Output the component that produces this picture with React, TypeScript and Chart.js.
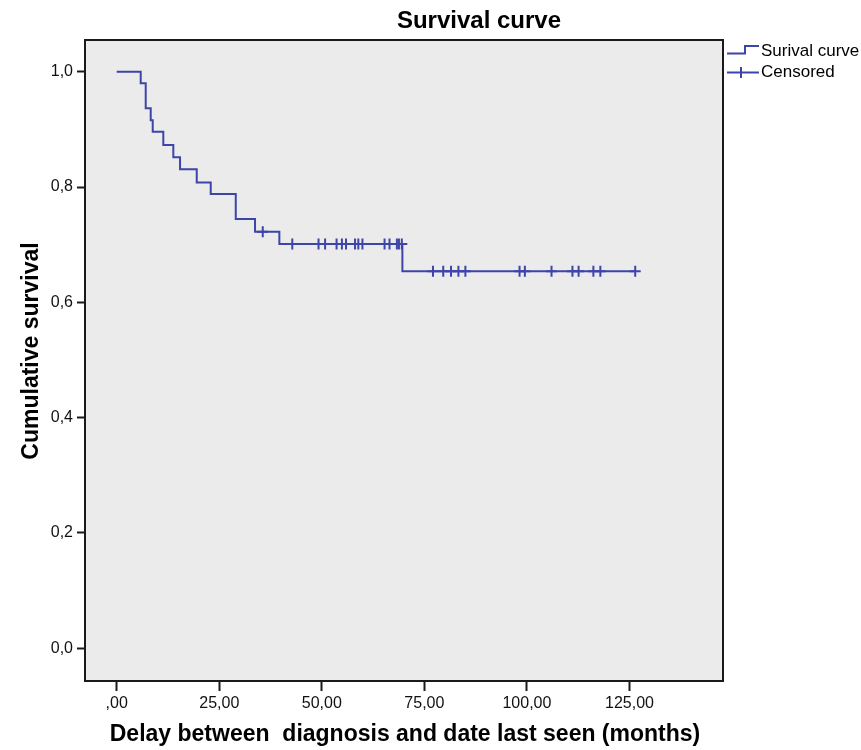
import React, { useEffect, useRef } from "react";
import { Chart, registerables } from "chart.js";

Chart.register(...registerables);

// ---- Data ----
const chartTitle = "Survival curve";
const xAxisTitle = "Delay between  diagnosis and date last seen (months)";
const yAxisTitle = "Cumulative survival";
const legendLabels = ["Surival curve", "Censored"];

// Kaplan-Meier step drops: time (months) and survival after the drop
const eventTimes = [5.85, 7.07, 8.29, 8.78, 11.36, 13.8, 15.44, 19.51, 22.92, 29.02, 33.72, 39.65, 69.64];
const survivalLevels = [0.98, 0.9365, 0.916, 0.896, 0.873, 0.8515, 0.831, 0.808, 0.788, 0.7446, 0.7225, 0.701, 0.654];
const lastFollowUp = 126.4;

// Censored observations (months)
const censoredTimes = [
  35.6, 42.8, 49.2, 50.8, 53.6, 54.9, 55.9, 58.1, 58.9, 59.9, 65.3, 66.5, 68.3, 68.8, 69.5,
  77.1, 79.6, 81.5, 83.3, 85.0, 98.2, 99.5, 106.0, 111.1, 112.6, 116.2, 117.9, 126.4,
];

const xTickValues = [0, 25, 50, 75, 100, 125];
const xTickLabels = [",00", "25,00", "50,00", "75,00", "100,00", "125,00"];
const yTickValues = [0, 0.2, 0.4, 0.6, 0.8, 1.0];
const yTickLabels = ["0,0", "0,2", "0,4", "0,6", "0,8", "1,0"];

const xMin = -7.73;
const xMax = 147.8;
const yMin = -0.0567;
const yMax = 1.055;

const LINE = "rgb(62,68,168)";
const FONT = '"Liberation Sans", Arial, sans-serif';

function survivalAt(t: number): number {
  let s = 1;
  for (let i = 0; i < eventTimes.length; i++) {
    if (eventTimes[i] <= t) s = survivalLevels[i];
  }
  return s;
}

export default function App() {
  const ref = useRef<HTMLCanvasElement | null>(null);

  useEffect(() => {
    document.body.style.margin = "0";
    const canvas = ref.current;
    if (!canvas) return;

    const curve = [{ x: 0, y: 1 }];
    eventTimes.forEach((t, i) => curve.push({ x: t, y: survivalLevels[i] }));
    curve.push({ x: lastFollowUp, y: survivalAt(lastFollowUp) });

    const censored = censoredTimes.map((t) => ({ x: t, y: survivalAt(t) }));

    const decor = {
      id: "decor",
      beforeDraw(chart: any) {
        const { ctx, chartArea: a } = chart;
        ctx.save();
        ctx.fillStyle = "#ffffff";
        ctx.fillRect(0, 0, chart.width, chart.height);
        ctx.fillStyle = "#ebebeb";
        ctx.fillRect(a.left, a.top, a.right - a.left, a.bottom - a.top);
        ctx.restore();
      },
      afterDraw(chart: any) {
        const { ctx, chartArea: a } = chart;
        ctx.save();
        // frame
        ctx.strokeStyle = "#1a1a1a";
        ctx.lineWidth = 2;
        ctx.strokeRect(a.left, a.top, a.right - a.left, a.bottom - a.top);

        // title
        ctx.fillStyle = "#000";
        ctx.textAlign = "center";
        ctx.textBaseline = "middle";
        ctx.font = `bold 24px ${FONT}`;
        ctx.fillText(chartTitle, 479, 21);

        // x axis title
        ctx.font = `bold 23px ${FONT}`;
        ctx.fillText(xAxisTitle, 405, 735);

        // y axis title
        ctx.save();
        ctx.translate(32, 351);
        ctx.rotate(-Math.PI / 2);
        ctx.fillText(yAxisTitle, 0, 0);
        ctx.restore();

        // legend
        const lx = a.right + 4;
        ctx.strokeStyle = LINE;
        ctx.lineWidth = 2;
        ctx.beginPath();
        ctx.moveTo(lx, 53.5);
        ctx.lineTo(lx + 18, 53.5);
        ctx.lineTo(lx + 18, 46);
        ctx.lineTo(lx + 32, 46);
        ctx.stroke();
        ctx.beginPath();
        ctx.moveTo(lx, 72.5);
        ctx.lineTo(lx + 32, 72.5);
        ctx.moveTo(lx + 14, 67);
        ctx.lineTo(lx + 14, 78);
        ctx.stroke();
        ctx.fillStyle = "#000";
        ctx.textAlign = "left";
        ctx.textBaseline = "middle";
        ctx.font = `17px ${FONT}`;
        ctx.fillText(legendLabels[0], lx + 34, 51);
        ctx.fillText(legendLabels[1], lx + 34, 72);
        ctx.restore();
      },
    };

    const chart = new Chart(canvas, {
      type: "scatter",
      data: {
        datasets: [
          {
            label: legendLabels[0],
            data: curve,
            showLine: true,
            stepped: true,
            borderColor: LINE,
            borderWidth: 2,
            pointRadius: 0,
            fill: false,
          },
          {
            label: legendLabels[1],
            data: censored,
            showLine: false,
            pointStyle: "cross",
            pointRadius: 5.5,
            borderColor: LINE,
            backgroundColor: LINE,
            borderWidth: 2,
          },
        ],
      },
      options: {
        responsive: false,
        animation: false,
        layout: { padding: { top: 40, right: 138, left: 0, bottom: 0 } },
        plugins: {
          legend: { display: false },
          title: { display: false },
          tooltip: { enabled: false },
        },
        scales: {
          x: {
            type: "linear",
            min: xMin,
            max: xMax,
            afterBuildTicks: (s: any) => {
              s.ticks = xTickValues.map((v) => ({ value: v }));
            },
            afterFit: (s: any) => {
              s.height = 69;
            },
            ticks: {
              color: "#111",
              font: { family: FONT, size: 16 },
              padding: 3,
              maxRotation: 0,
              autoSkip: false,
              callback: (v: any) => {
                const i = xTickValues.indexOf(Number(v));
                return i >= 0 ? xTickLabels[i] : "";
              },
            },
            grid: {
              drawOnChartArea: false,
              drawTicks: true,
              tickLength: 10,
              tickWidth: 2,
              tickColor: "#1a1a1a",
            },
            border: { display: false },
          },
          y: {
            type: "linear",
            min: yMin,
            max: yMax,
            afterBuildTicks: (s: any) => {
              s.ticks = yTickValues.map((v) => ({ value: v }));
            },
            afterFit: (s: any) => {
              s.width = 85;
            },
            ticks: {
              color: "#111",
              font: { family: FONT, size: 16 },
              padding: 4,
              autoSkip: false,
              callback: (v: any) => {
                const i = yTickValues.findIndex((y) => Math.abs(y - Number(v)) < 1e-6);
                return i >= 0 ? yTickLabels[i] : "";
              },
            },
            grid: {
              drawOnChartArea: false,
              drawTicks: true,
              tickLength: 8,
              tickWidth: 2,
              tickColor: "#1a1a1a",
            },
            border: { display: false },
          },
        },
      },
      plugins: [decor],
    });

    return () => chart.destroy();
  }, []);

  return (
    <div style={{ width: 861, height: 750 }}>
      <canvas ref={ref} width={861} height={750} style={{ display: "block" }} />
    </div>
  );
}
